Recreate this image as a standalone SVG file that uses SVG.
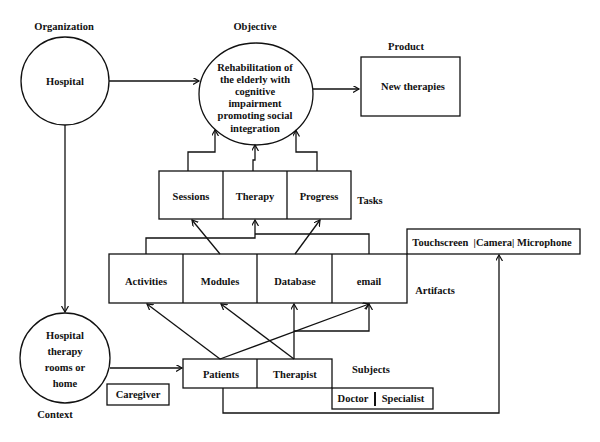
<svg xmlns="http://www.w3.org/2000/svg" width="600" height="442" viewBox="0 0 600 442">
<style>
text{font-family:"Liberation Serif","Times New Roman",serif;font-size:10.5px;font-weight:bold;fill:#111;text-anchor:middle}
.sh{fill:none;stroke:#111;stroke-width:1.3}
.c path{fill:none;stroke:#111;stroke-width:1.3;marker-end:url(#a)}
.c path.n{marker-end:none}
</style>
<defs>
<marker id="a" markerUnits="userSpaceOnUse" markerWidth="10" markerHeight="10" refX="6" refY="3.5" orient="auto">
<path d="M0,0 L6,3.5 L0,7" fill="none" stroke="#111" stroke-width="1.2"/>
</marker>
</defs>
<rect width="600" height="442" fill="#fff"/>
<g id="labels">
<text x="64" y="30">Organization</text>
<text x="255" y="30">Objective</text>
<text x="406" y="50">Product</text>
<text x="370" y="204">Tasks</text>
<text x="435" y="294">Artifacts</text>
<text x="371" y="373">Subjects</text>
<text x="55" y="418">Context</text>
</g>
<g id="hospital">
<circle class="sh" cx="65" cy="81" r="44"/>
<text x="65" y="85">Hospital</text>
</g>
<g id="objective">
<ellipse class="sh" cx="256" cy="94" rx="57" ry="51"/>
<text x="255" y="70.5">Rehabilitation of</text>
<text x="255" y="82.7">the elderly with</text>
<text x="255" y="94.9">cognitive</text>
<text x="255" y="107.1">impairment</text>
<text x="255" y="119.3">promoting social</text>
<text x="255" y="131.5">integration</text>
</g>
<g id="product">
<rect class="sh" x="361" y="57" width="99" height="59"/>
<text x="413" y="90">New therapies</text>
</g>
<g id="tasks">
<rect class="sh" x="159" y="171" width="192" height="48"/>
<path class="sh" d="M223,171V219M287,171V219"/>
<text x="191" y="200">Sessions</text>
<text x="255" y="200">Therapy</text>
<text x="319" y="200">Progress</text>
</g>
<g id="artifacts">
<rect class="sh" x="109" y="254" width="298" height="49"/>
<path class="sh" d="M183,254V303M257,254V303M332,254V303"/>
<text x="146" y="285">Activities</text>
<text x="220" y="285">Modules</text>
<text x="295" y="285">Database</text>
<text x="369" y="285">email</text>
</g>
<g id="devices">
<rect class="sh" x="407" y="229" width="173" height="25"/>
<text x="492" y="246" xml:space="preserve">Touchscreen  |Camera| Microphone</text>
</g>
<g id="context">
<circle class="sh" cx="65" cy="358" r="45"/>
<text x="65" y="339">Hospital</text>
<text x="65" y="355">therapy</text>
<text x="65" y="371">rooms or</text>
<text x="65" y="387">home</text>
</g>
<g id="caregiver">
<rect class="sh" x="107" y="384" width="62" height="21"/>
<text x="138" y="398">Caregiver</text>
</g>
<g id="subjects">
<rect class="sh" x="183" y="359" width="149" height="29"/>
<path class="sh" d="M257,359V388"/>
<text x="221" y="378">Patients</text>
<text x="295" y="378">Therapist</text>
</g>
<g id="doctor">
<rect class="sh" x="332" y="388" width="101" height="21"/>
<path d="M375,392V406" stroke="#111" stroke-width="2"/>
<text x="353" y="402">Doctor</text>
<text x="403" y="402">Specialist</text>
</g>
<g id="connectors" class="c">
<path d="M109,81H199"/>
<path d="M313,89H359"/>
<path d="M65,125V312"/>
<path d="M110,368H182"/>
<path d="M188,171V152H215V130"/>
<path d="M253,171V160H255V145"/>
<path d="M317,171V152H296V130.5"/>
<path d="M220,254L192,220"/>
<path d="M295,254L320,220"/>
<path d="M146,254V238H255V220"/>
<path class="n" d="M369,254V234H255"/>
<path d="M220,359L147,304"/>
<path d="M294,359L221,304"/>
<path d="M294,359V304"/>
<path d="M220,359L369,304"/>
<path d="M294,331H369V304"/>
<path d="M223,388V413H499V255"/>
</g>
</svg>
